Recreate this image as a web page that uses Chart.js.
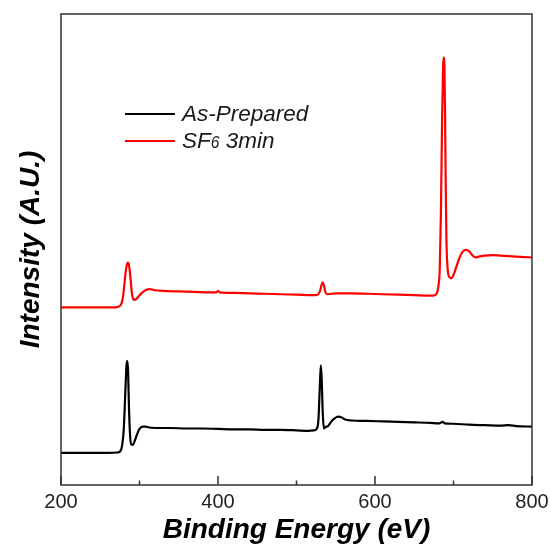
<!DOCTYPE html>
<html>
<head>
<meta charset="utf-8">
<script src="https://cdn.jsdelivr.net/npm/chart.js@4.4.0/dist/chart.umd.min.js"></script>
<style>
    html, body { margin: 0; padding: 0; background: #fff; }
    #wrap { position: relative; width: 551px; height: 544px; }
    #legend {
        position: absolute; left: 125px; top: 100px;
        font-family: "Liberation Sans", Arial, sans-serif;
        font-style: italic; font-size: 22.5px; color: #1a1a1a;
    }
    .item { display: flex; align-items: center; height: 27px; white-space: nowrap; }
    .swatch { width: 50px; height: 0; border-top: 2px solid; margin-right: 7px; }
    .sub { font-size: 0.7em; }
</style>
</head>
<body>
<div id="wrap">
    <canvas id="xps" width="551" height="544"></canvas>
    <div id="legend"></div>
</div>
<script>
// XPS survey spectra (intensity in arbitrary units)
const seriesNames = ["As-Prepared", "SF6 3min"];
const seriesColors = ["#000000", "#ff0000"];

const energyAsPrepared = [
    200, 230, 260, 272, 276, 278, 280, 282, 283.5, 284.6, 285.5, 286.5, 288, 289.5, 291.5, 294, 297, 300,
    304, 308, 312, 320, 340, 360, 380, 400, 420, 440, 460, 480, 500, 515, 522, 526, 528, 529.5, 531,
    532.2, 533.5, 535, 537, 540, 544, 549, 553, 557, 562, 570, 590, 610, 630, 650, 670, 682, 686, 689,
    700, 720, 740, 760, 770, 780, 800
];
const intensityAsPrepared = [
    6.8, 6.8, 6.8, 6.9, 7.3, 8.5, 12, 20, 25.5, 26.3, 24, 17, 10.5, 8.6, 8.5, 9.4, 10.8, 11.9,
    12.4, 12.4, 12.2, 12.1, 12.1, 12.0, 12.0, 11.9, 11.8, 11.8, 11.7, 11.7, 11.6, 11.5, 11.6, 12.0, 14, 20, 25.4,
    22, 15, 12, 12.3, 12.5, 13.4, 14.2, 14.5, 14.4, 13.9, 13.7, 13.6, 13.5, 13.4, 13.3, 13.2, 13.1, 13.4, 13.1,
    13.0, 12.8, 12.7, 12.6, 12.7, 12.5, 12.4
];

const energySF6 = [
    200, 240, 270, 274, 277, 279, 281, 283, 285, 286.5, 288.5, 290.5, 293, 296, 299, 303, 308, 313, 318,
    330, 350, 370, 390, 398, 400, 402, 420, 440, 460, 480, 500, 520, 527, 530, 532, 533.5, 535, 537, 540,
    550, 570, 590, 610, 630, 650, 670, 676, 679, 681, 682.5, 684, 685.5, 686.8, 687.6, 688.4, 689.2, 690,
    691, 692.5, 694.5, 697, 700, 704, 708, 712, 716, 720, 724, 728, 732, 740, 750, 760, 770, 780, 790, 800
];
const intensitySF6 = [
    37.7, 37.7, 37.7, 37.9, 38.5, 40, 43, 46, 47.2, 46.8, 44, 40.5, 39.3, 39.5, 40.1, 40.8, 41.4, 41.6, 41.4,
    41.2, 41.1, 41.0, 40.9, 40.9, 41.2, 40.9, 40.8, 40.7, 40.6, 40.5, 40.4, 40.3, 40.4, 41.2, 42.5, 43.0, 42.3, 40.9, 40.5,
    40.7, 40.7, 40.6, 40.5, 40.4, 40.3, 40.2, 40.3, 40.8, 42.5, 46, 58, 78, 89, 90.8, 89.5, 80, 65,
    52, 46, 44.2, 43.9, 44.6, 46.5, 48.4, 49.6, 49.9, 49.6, 48.8, 48.3, 48.5, 48.7, 48.8, 48.7, 48.6, 48.5, 48.4, 48.3
];

const majorTicks = [200, 400, 600, 800];
const minorTicks = [300, 500, 700];

const FONT = "'Liberation Sans', Arial, sans-serif";

function toPoints(xs, ys) {
    return xs.map((x, i) => ({ x: x, y: ys[i] }));
}

// frame box + inward ticks on the bottom axis
const framePlugin = {
    id: "frame",
    afterDraw(chart) {
        const { ctx, chartArea: a } = chart;
        const x = chart.scales.x;
        ctx.save();
        ctx.strokeStyle = "#333";
        ctx.lineWidth = 1.5;
        ctx.strokeRect(a.left, a.top, a.right - a.left, a.bottom - a.top);
        ctx.beginPath();
        majorTicks.forEach(v => {
            const px = x.getPixelForValue(v);
            ctx.moveTo(px, a.bottom);
            ctx.lineTo(px, a.bottom - 9);
        });
        minorTicks.forEach(v => {
            const px = x.getPixelForValue(v);
            ctx.moveTo(px, a.bottom);
            ctx.lineTo(px, a.bottom - 4.5);
        });
        ctx.stroke();
        ctx.restore();
    }
};

new Chart(document.getElementById("xps"), {
    type: "line",
    data: {
        datasets: [
            { label: seriesNames[0], data: toPoints(energyAsPrepared, intensityAsPrepared) },
            { label: seriesNames[1], data: toPoints(energySF6, intensitySF6) }
        ].map((d, i) => Object.assign(d, {
            borderColor: seriesColors[i],
            borderWidth: 2.2,
            pointRadius: 0,
            fill: false,
            cubicInterpolationMode: "monotone"
        }))
    },
    options: {
        responsive: false,
        animation: false,
        layout: { padding: { top: 14, right: 19, left: 0, bottom: 0 } },
        plugins: { legend: { display: false }, tooltip: { enabled: false } },
        scales: {
            x: {
                type: "linear",
                min: 200,
                max: 800,
                afterBuildTicks: s => {
                    s.ticks = majorTicks.concat(minorTicks).sort((a, b) => a - b).map(v => ({ value: v }));
                },
                ticks: {
                    callback: v => majorTicks.includes(v) ? String(v) : "",
                    font: { family: FONT, size: 20 },
                    color: "#222",
                    padding: 5,
                    maxRotation: 0,
                    autoSkip: false
                },
                grid: { display: false, drawTicks: false },
                border: { display: false },
                title: {
                    display: true,
                    text: "Binding Energy (eV)",
                    font: { family: FONT, size: 28, weight: "bold", style: "italic" },
                    color: "#000",
                    padding: { top: 0, bottom: -3 }
                },
                afterFit: s => {
                    s.height = 59;
                    s.paddingLeft = 0;
                    s.paddingRight = 0;
                }
            },
            y: {
                min: 0,
                max: 100,
                ticks: { display: false },
                grid: { display: false, drawTicks: false },
                border: { display: false },
                title: {
                    display: true,
                    text: "Intensity (A.U.)",
                    font: { family: FONT, size: 28, weight: "bold", style: "italic" },
                    color: "#000",
                    padding: { top: 14, bottom: 0 }
                },
                afterFit: s => {
                    s.width = 61;
                    s.paddingTop = 0;
                    s.paddingBottom = 0;
                }
            }
        }
    },
    plugins: [framePlugin]
});

// legend sits inside the plot, built from the series names
document.getElementById("legend").innerHTML = seriesNames.map((name, i) => `
    <div class="item">
        <span class="swatch" style="border-color: ${seriesColors[i]};"></span>
        <span>${name.replace(/^SF6/, 'SF<span class="sub">6</span>')}</span>
    </div>
`).join("");
</script>
</body>
</html>
